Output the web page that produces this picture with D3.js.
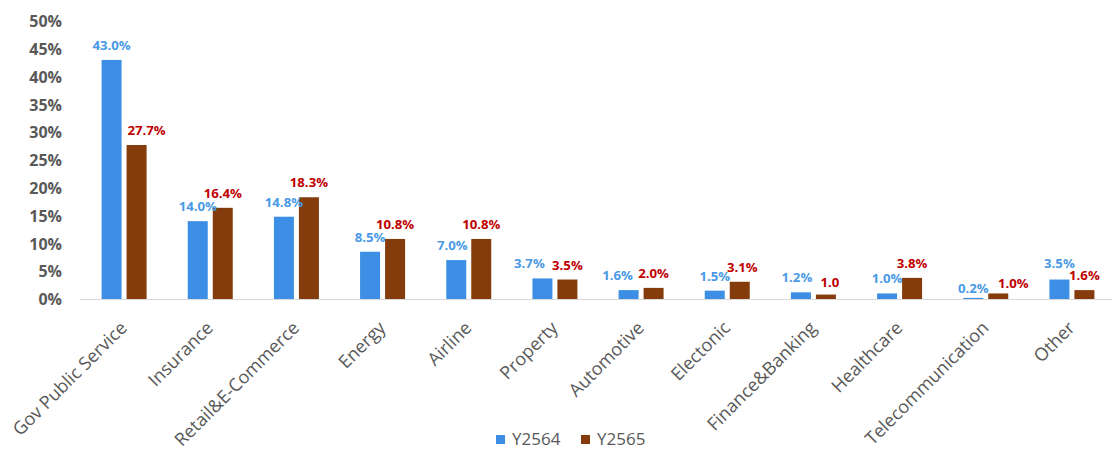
<!DOCTYPE html>
<html>
<head>
<meta charset="utf-8">
<script src="https://cdn.jsdelivr.net/npm/d3@7"></script>
<style>
  html, body { margin: 0; padding: 0; background: #fff; }
  svg { display: block; }
</style>
</head>
<body>
<svg id="chart" width="1112" height="450"></svg>
<script>
// ---- data ----
const categories = ["Gov Public Service", "Insurance", "Retail&E-Commerce", "Energy", "Airline",
  "Property", "Automotive", "Electonic", "Finance&Banking", "Healthcare", "Telecommunication", "Other"];
const seriesNames = ["Y2564", "Y2565"];
const valuesY2564 = [43.0, 14.0, 14.8, 8.5, 7.0, 3.7, 1.6, 1.5, 1.2, 1.0, 0.2, 3.5];
const valuesY2565 = [27.7, 16.4, 18.3, 10.8, 10.8, 3.5, 2.0, 3.1, 0.8, 3.8, 1.0, 1.6];
const labelsY2564 = ["43.0%", "14.0%", "14.8%", "8.5%", "7.0%", "3.7%", "1.6%", "1.5%", "1.2%", "1.0%", "0.2%", "3.5%"];
const labelsY2565 = ["27.7%", "16.4%", "18.3%", "10.8%", "10.8%", "3.5%", "2.0%", "3.1%", "1.0", "3.8%", "1.0%", "1.6%"];
const yTicks = [0, 5, 10, 15, 20, 25, 30, 35, 40, 45, 50];

// ---- styles ----
const colors = { Y2564: "#3C8FE4", Y2565: "#843C0C" };
const labelColors = { Y2564: "#4A9AE6", Y2565: "#C00000" };
const font = "'Open Sans', 'Noto Sans', sans-serif";
const grey = "#595959";

const svg = d3.select("#chart");
const x0 = d3.scaleBand().domain(categories).range([81, 1115]);
const x1 = d3.scaleBand().domain(seriesNames).range([-22.5, 22.5]).paddingInner(0.2);
const y = d3.scaleLinear().domain([0, 50]).range([299, 21]);

const seriesValues = { Y2564: valuesY2564, Y2565: valuesY2565 };
const seriesLabels = { Y2564: labelsY2564, Y2565: labelsY2565 };

// y axis (labels only)
const yAxis = d3.axisLeft(y).tickValues(yTicks).tickFormat(d => d + "%").tickSize(0).tickPadding(0);
const gy = svg.append("g").attr("transform", "translate(62,0)").call(yAxis);
gy.select(".domain").remove();
gy.selectAll("text").attr("font-family", font).attr("font-size", 16).attr("font-weight", "bold")
  .attr("fill", grey).attr("dy", "0.35em");

// x axis line
const xAxis = d3.axisBottom(x0).tickSize(0).tickSizeOuter(0).tickFormat("");
const gx = svg.append("g").attr("transform", `translate(0,${y(0) + 0.5})`).call(xAxis);
gx.select(".domain").attr("stroke", "#D9D9D9").attr("stroke-width", 1.2)
  .attr("d", `M80,0H1112`);

// bars
const groups = svg.append("g").selectAll("g").data(categories).join("g")
  .attr("transform", d => `translate(${x0(d) + x0.bandwidth() / 2},0)`);

seriesNames.forEach(s => {
  groups.append("rect")
    .attr("x", x1(s))
    .attr("width", x1.bandwidth())
    .attr("y", (d, i) => y(seriesValues[s][i]))
    .attr("height", (d, i) => y(0) - y(seriesValues[s][i]))
    .attr("fill", colors[s]);
});

// label nudges (manual placements in original)
const nudge = {
  "Y2565|Gov Public Service": [10, 0],
  "Y2564|Airline": [-4, 0],
  "Y2564|Property": [-13, 0],
  "Y2564|Automotive": [-11, 0],
  "Y2565|Electonic": [2.5, 0],
  "Y2564|Finance&Banking": [-4, 0],
  "Y2565|Finance&Banking": [4, 2],
  "Y2564|Telecommunication": [0, 5],
  "Y2565|Telecommunication": [15, 5],
  "Y2564|Other": [0, -1.5]
};

seriesNames.forEach(s => {
  groups.append("text")
    .attr("x", d => x1(s) + x1.bandwidth() / 2 + ((nudge[s + "|" + d] || [0, 0])[0]))
    .attr("y", (d, i) => y(seriesValues[s][i]) - 10 + ((nudge[s + "|" + d] || [0, 0])[1]))
    .attr("text-anchor", "middle")
    .attr("font-family", font).attr("font-size", 13.2).attr("font-weight", "bold")
    .attr("fill", labelColors[s])
    .text((d, i) => seriesLabels[s][i]);
});

// category labels
svg.append("g").selectAll("text").data(categories).join("text")
  .attr("transform", d => `translate(${x0(d) + x0.bandwidth() / 2 + 4},329) rotate(-45)`)
  .attr("text-anchor", "end")
  .attr("font-family", font).attr("font-size", 18).attr("fill", grey)
  .text(d => d);

// legend
const legend = svg.append("g");
const legendX = { Y2564: 496, Y2565: 581 };
seriesNames.forEach(s => {
  legend.append("rect").attr("x", legendX[s]).attr("y", 435).attr("width", 9).attr("height", 9)
    .attr("fill", colors[s]);
  legend.append("text").attr("x", legendX[s] + 16).attr("y", 445)
    .attr("font-family", font).attr("font-size", 17).attr("fill", grey).text(s);
});
</script>
</body>
</html>
